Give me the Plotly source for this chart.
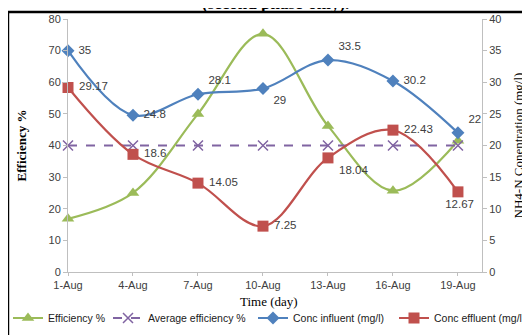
import plotly.graph_objects as go

dates = ["1-Aug", "4-Aug", "7-Aug", "10-Aug", "13-Aug", "16-Aug", "19-Aug"]
efficiency = [16.8, 25, 50, 75.3, 46.2, 25.7, 41.5]
avg_efficiency = [40, 40, 40, 40, 40, 40, 40]
conc_influent = [35, 24.8, 28.1, 29, 33.5, 30.2, 22]
conc_effluent = [29.17, 18.6, 14.05, 7.25, 18.04, 22.43, 12.67]

infl_pos = ["middle right", "middle right", "top right", "bottom right", "top right", "middle right", "top right"]
effl_pos = ["middle right", "middle right", "middle right", "middle right", "bottom right", "middle right", "bottom center"]

x = list(range(len(dates)))
GREEN, PURPLE, BLUE, RED = "#9BBB59", "#8064A2", "#4F81BD", "#C0504D"
lab_font = dict(family="Liberation Sans", size=11.5, color="#404040")

fig = go.Figure()
fig.add_trace(go.Scatter(x=x, y=efficiency, name="Efficiency %", mode="lines+markers", legend="legend",
                         cliponaxis=False,
                         line=dict(color=GREEN, width=2.2, shape="spline", smoothing=1),
                         marker=dict(symbol="triangle-up", size=11, color=GREEN)))
fig.add_trace(go.Scatter(x=x, y=avg_efficiency, name="Average efficiency %", mode="lines+markers", legend="legend2",
                         cliponaxis=False,
                         line=dict(color=PURPLE, width=2.2, dash="dash"),
                         marker=dict(symbol="x-thin-open", size=10, line=dict(color=PURPLE, width=1.5))))
fig.add_trace(go.Scatter(x=x, y=conc_influent, name="Conc influent (mg/l)", mode="lines+markers+text", legend="legend3",
                         yaxis="y2", text=[" " + str(v) for v in conc_influent], textposition=infl_pos,
                         textfont=lab_font, cliponaxis=False,
                         line=dict(color=BLUE, width=2.2, shape="spline", smoothing=1),
                         marker=dict(symbol="diamond", size=10, color=BLUE)))
fig.add_trace(go.Scatter(x=x, y=conc_effluent, name="Conc effluent (mg/l)", mode="lines+markers+text", legend="legend4",
                         yaxis="y2", text=[" " + str(v) for v in conc_effluent], textposition=effl_pos,
                         textfont=lab_font, cliponaxis=False,
                         line=dict(color=RED, width=2.2, shape="spline", smoothing=1),
                         marker=dict(symbol="square", size=11, color=RED)))

axis_common = dict(showgrid=False, zeroline=False, showline=True, linecolor="#BFBFBF", linewidth=1,
                   ticks="outside", tickcolor="#BFBFBF", ticklen=4, automargin=False,
                   tickfont=dict(family="Liberation Sans", size=11, color="#404040"))

# page body has an 8px default margin, so figure coordinates are screen - 8
def leg(xpx):
    return dict(orientation="h", xref="container", yref="container", x=xpx / 530, y=1 - 310 / 335,
                xanchor="left", yanchor="middle",
                font=dict(family="Liberation Sans", size=10.5, color="#202020"),
                itemwidth=30, bgcolor="rgba(0,0,0,0)", borderwidth=0)

fig.update_layout(
    width=530, height=335,
    margin=dict(l=60, r=56, t=11, b=71, autoexpand=False),
    paper_bgcolor="white", plot_bgcolor="white",
    showlegend=True,
    legend=leg(-6), legend2=leg(100), legend3=leg(245), legend4=leg(386),
    xaxis=dict(axis_common, range=[0, 6.37], tickvals=x, ticktext=dates, ticklen=3),
    yaxis=dict(axis_common, range=[0, 80], dtick=10,
               title=dict(text="<b>Efficiency %</b>", font=dict(family="Liberation Serif", size=13, color="black"), standoff=18)),
    yaxis2=dict(axis_common, range=[0, 40], dtick=5, overlaying="y", side="right",
                title=dict(text="NH4-N Conentration (mg/l)", font=dict(family="Liberation Serif", size=13, color="black"), standoff=13)),
    shapes=[dict(type="rect", xref="paper", yref="paper", x0=-0.145, x1=1.3, y0=-0.4, y1=1.028,
                 line=dict(color="black", width=2.5), fillcolor="rgba(0,0,0,0)", layer="above")],
    annotations=[
        dict(text="<b>(second phase-only).</b>", xref="paper", yref="paper", x=0.5, y=1.062,
             xanchor="center", yanchor="middle", showarrow=False,
             font=dict(family="Liberation Serif", size=17, color="black")),
        dict(text="Time (day)", xref="paper", yref="paper", x=0.485, y=-0.118,
             xanchor="center", yanchor="middle", showarrow=False,
             font=dict(family="Liberation Serif", size=13, color="black")),
    ],
)

fig.write_html("out.html")
